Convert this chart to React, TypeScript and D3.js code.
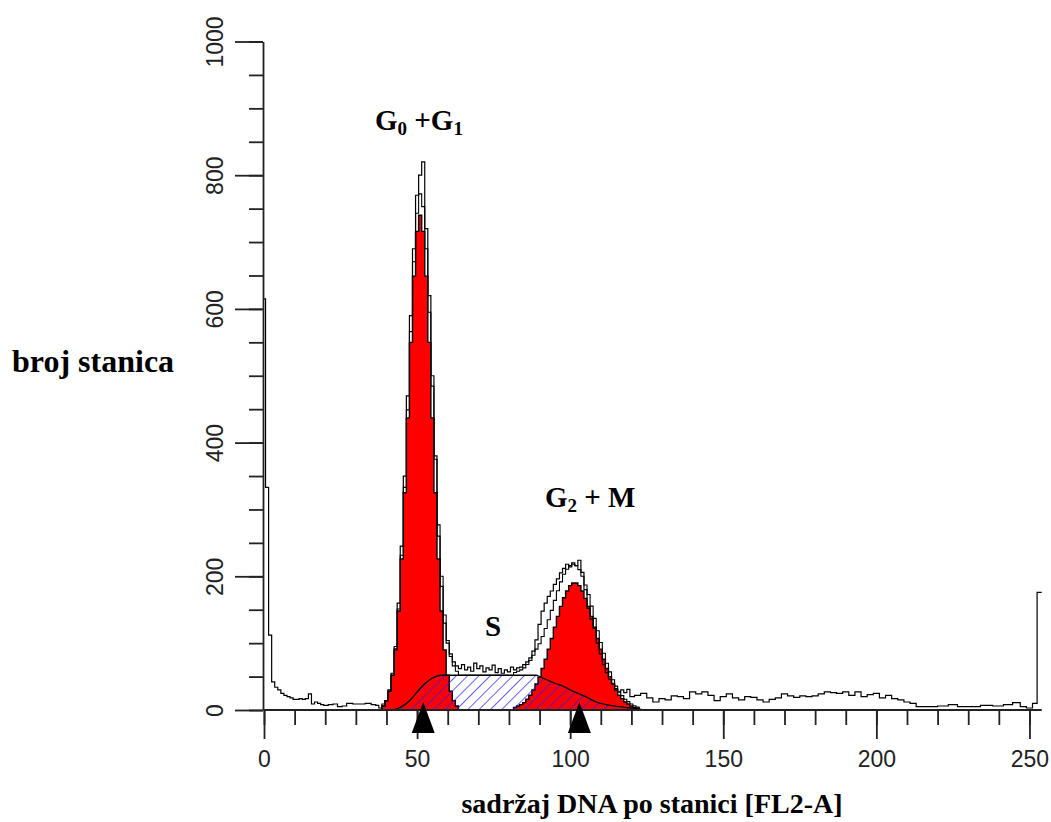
import React, { useEffect, useRef } from 'react'
import * as d3 from 'd3'

const W = 1051
const H = 822

// DNA histogram: [channel, cell count]
const histogram: [number, number][] = [
  [0, 615], [1, 333], [2, 112], [3, 42], [4, 34], [5, 30], [6, 25], [7, 22], [8, 20], [9, 18], [10, 16],
  [11, 16], [12, 17], [13, 16], [14, 17], [15, 24], [16, 9], [17, 12], [18, 10], [19, 8], [20, 7],
  [22, 8], [23, 9], [25, 5], [26, 6], [28, 10], [30, 9], [32, 9], [34, 10], [36, 8], [37, 7], [38, 3],
  [39, 9], [40, 14], [41, 30], [42, 55], [43, 95], [44, 160], [45, 245], [46, 350], [47, 470], [48, 590],
  [49, 690], [50, 770], [51, 800], [52, 820], [53, 720], [54, 620], [55, 500], [56, 380], [57, 260],
  [58, 185], [59, 130], [60, 100], [61, 84], [62, 72], [63, 66], [64, 62], [65, 68], [66, 60], [67, 64],
  [68, 58], [69, 70], [70, 62], [71, 66], [72, 57], [73, 63], [74, 60], [75, 67], [76, 56], [77, 62],
  [78, 55], [79, 60], [80, 57], [81, 64], [82, 60], [83, 63], [84, 64], [85, 68], [86, 72], [87, 78],
  [88, 88], [89, 105], [90, 128], [91, 148], [92, 160], [93, 170], [94, 178], [95, 188], [96, 196],
  [97, 205], [98, 212], [99, 218], [100, 214], [101, 220], [102, 216], [103, 224], [104, 206], [105, 180],
  [106, 152], [107, 136], [108, 122], [109, 100], [110, 84], [111, 68], [112, 56], [113, 46], [114, 40],
  [115, 32], [116, 27], [117, 30], [118, 26], [119, 31], [120, 20], [122, 22], [124, 25], [126, 18],
  [128, 12], [130, 17], [132, 15], [134, 21], [136, 20], [138, 17], [140, 27], [142, 24], [144, 27],
  [146, 22], [148, 14], [150, 20], [152, 24], [154, 18], [156, 15], [158, 20], [160, 19], [162, 15],
  [164, 12], [166, 16], [168, 18], [170, 24], [172, 21], [174, 19], [176, 21], [178, 20], [180, 21],
  [182, 24], [184, 27], [186, 26], [188, 25], [190, 27], [192, 22], [194, 27], [196, 20], [198, 23],
  [200, 25], [202, 18], [204, 22], [206, 17], [208, 15], [210, 12], [212, 10], [214, 5], [216, 5],
  [218, 5], [222, 6], [225, 8], [228, 5], [232, 5], [236, 7], [240, 6], [243, 8], [246, 11], [248, 5],
  [250, 3], [252, 10], [253, 176], [254, 176],
]

// G0/G1 peak of the fit
const g1Fit: [number, number][] = [
  [38, 0], [39, 6], [40, 14], [41, 28], [42, 52], [43, 90], [44, 148], [45, 226], [46, 325], [47, 437],
  [48, 550], [49, 649], [50, 716], [51, 740], [52, 716], [53, 649], [54, 550], [55, 437], [56, 325],
  [57, 226], [58, 148], [59, 90], [60, 52], [61, 28], [62, 14], [63, 6], [64, 0],
]

// G2/M peak of the fit
const g2Fit: [number, number][] = [
  [81, 0], [82, 4], [83, 6], [84, 8], [85, 11], [86, 16], [87, 22], [88, 30], [89, 39], [90, 49],
  [91, 62], [92, 76], [93, 91], [94, 107], [95, 124], [96, 140], [97, 155], [98, 168], [99, 178],
  [100, 186], [101, 190], [102, 190], [103, 186], [104, 178], [105, 167], [106, 155], [107, 140],
  [108, 124], [109, 107], [110, 91], [111, 76], [112, 62], [113, 50], [114, 39], [115, 30], [116, 22],
  [117, 17], [118, 12], [119, 9], [120, 6], [121, 4], [122, 3], [123, 0],
]

// S phase of the fit
const sPhase: [number, number][] = [
  [42, 0], [44, 3], [46, 8], [48, 16], [50, 27], [52, 37], [54, 45], [56, 50], [58, 52], [89, 52],
  [90, 50], [92, 46], [95, 40], [98, 35], [100, 30], [103, 24], [105, 20], [108, 13], [110, 10],
  [113, 7], [116, 5], [120, 3], [124, 0],
]

const peakMarkers = [52, 103]

const xMajor = [0, 50, 100, 150, 200, 250]
const xMinor = d3.range(0, 251, 10)
const yMajor = [0, 200, 400, 600, 800, 1000]
const yMinor = d3.range(0, 1001, 50)

const x = d3.scaleLinear().domain([0, 254]).range([264, 1041.7])
const y = d3.scaleLinear().domain([0, 1000]).range([710, 41.5])

const serif = '"Liberation Serif", "Times New Roman", serif'
const sans = '"Liberation Sans", Arial, sans-serif'

const App = () => {
  const xAxisRef = useRef<SVGGElement>(null)
  const xMinorRef = useRef<SVGGElement>(null)
  const yAxisRef = useRef<SVGGElement>(null)
  const yMinorRef = useRef<SVGGElement>(null)

  useEffect(() => {
    const style = (g: d3.Selection<SVGGElement, unknown, null, undefined>) => {
      g.selectAll('path, line').attr('stroke', '#222').attr('stroke-width', 1.8)
      g.selectAll('text').attr('fill', '#222').style('font-family', sans).style('font-size', '23px')
    }

    const gxMinor = d3.select(xMinorRef.current!)
    gxMinor.call(d3.axisBottom(x).tickValues(xMinor).tickSize(15).tickSizeOuter(0).tickFormat(() => ''))
    gxMinor.select('.domain').attr('d', `M${x(0)},0H${x(254)}`)
    style(gxMinor)

    const gx = d3.select(xAxisRef.current!)
    gx.call(d3.axisBottom(x).tickValues(xMajor).tickSize(29).tickFormat(d3.format('d')))
    gx.select('.domain').remove()
    gx.selectAll('text').attr('y', 57).attr('dy', 0)
    style(gx)

    const gyMinor = d3.select(yMinorRef.current!)
    gyMinor.call(d3.axisLeft(y).tickValues(yMinor).tickSize(14).tickSizeOuter(0).tickFormat(() => ''))
    style(gyMinor)

    const gy = d3.select(yAxisRef.current!)
    gy.call(d3.axisLeft(y).tickValues(yMajor).tickSize(28).tickFormat(d3.format('d')))
    gy.select('.domain').remove()
    gy.selectAll('text')
      .attr('x', 0)
      .attr('y', -40)
      .attr('dy', 0)
      .attr('text-anchor', 'middle')
      .attr('transform', 'rotate(-90)')
    style(gy)
  }, [])

  const stepLine = d3.line<[number, number]>().x(d => x(d[0])).y(d => y(d[1])).curve(d3.curveStep)
  const stepArea = d3.area<[number, number]>().x(d => x(d[0])).y0(y(0)).y1(d => y(d[1])).curve(d3.curveStep)
  const smoothArea = d3.area<[number, number]>().x(d => x(d[0])).y0(y(0)).y1(d => y(d[1])).curve(d3.curveMonotoneX)
  const smoothLine = d3.line<[number, number]>().x(d => x(d[0])).y(d => y(d[1])).curve(d3.curveMonotoneX)

  // sum of the fitted components
  const sAt = d3.scaleLinear().domain(sPhase.map(d => d[0])).range(sPhase.map(d => d[1])).clamp(true)
  const g1Map = new Map(g1Fit)
  const g2Map = new Map(g2Fit)
  const fitSum: [number, number][] = d3.range(38, 125).map(c => [
    c,
    (g1Map.get(c) ?? 0) + (g2Map.get(c) ?? 0) + sAt(c),
  ])

  return (
    <svg width={W} height={H} style={{ display: 'block', background: '#fff' }}>
      <style>{`body{margin:0}`}</style>
      <defs>
        <pattern id="hatch" patternUnits="userSpaceOnUse" width={8} height={8} patternTransform="rotate(45)">
          <line x1={0} y1={0} x2={0} y2={8} stroke="#2020ff" strokeWidth={1.4} />
        </pattern>
      </defs>

      <path d={smoothArea(sPhase) ?? ''} fill="#fff" />
      <path d={stepArea(g1Fit) ?? ''} fill="#ff0000" stroke="#000" strokeWidth={1.4} />
      <path d={stepArea(g2Fit) ?? ''} fill="#ff0000" stroke="#000" strokeWidth={1.4} />
      <path d={smoothArea(sPhase) ?? ''} fill="url(#hatch)" />
      <path d={smoothLine(sPhase) ?? ''} fill="none" stroke="#000" strokeWidth={1.3} />

      <path d={stepLine(fitSum) ?? ''} fill="none" stroke="#000" strokeWidth={1.1} />
      <path d={stepLine(histogram) ?? ''} fill="none" stroke="#000" strokeWidth={1.2} />

      <g ref={xMinorRef} transform={`translate(0,${y(0)})`} />
      <g ref={xAxisRef} transform={`translate(0,${y(0)})`} />
      <g ref={yMinorRef} transform={`translate(${x(0) - 1},0)`} />
      <g ref={yAxisRef} transform={`translate(${x(0) - 1},0)`} />

      {peakMarkers.map(c => (
        <path
          key={c}
          d={`M${x(c)},${y(0) - 8}l11.5,31h-23z`}
          fill="#000"
        />
      ))}

      <text x={12} y={372} fontFamily={serif} fontWeight="bold" fontSize={32}>broj stanica</text>
      <text x={652} y={813} fontFamily={serif} fontWeight="bold" fontSize={28} textAnchor="middle">
        sadržaj DNA po stanici [FL2-A]
      </text>
      <text x={375} y={130} fontFamily={serif} fontWeight="bold" fontSize={29}>
        G<tspan fontSize={19} dy={5}>0</tspan><tspan dy={-5}> +G</tspan><tspan fontSize={19} dy={5}>1</tspan>
      </text>
      <text x={545} y={507} fontFamily={serif} fontWeight="bold" fontSize={29}>
        G<tspan fontSize={19} dy={5}>2</tspan><tspan dy={-5}> + M</tspan>
      </text>
      <text x={493} y={636} fontFamily={serif} fontWeight="bold" fontSize={29} textAnchor="middle">S</text>
    </svg>
  )
}

export default App
